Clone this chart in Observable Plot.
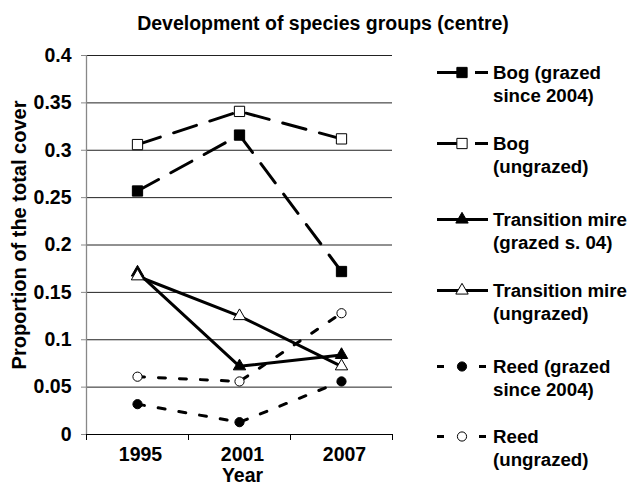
<!DOCTYPE html>
<html>
<head>
<meta charset="utf-8">
<script src="https://cdn.jsdelivr.net/npm/d3@7"></script>
<script src="https://cdn.jsdelivr.net/npm/@observablehq/plot@0.6"></script>
<style>
  body { margin: 0; background: #fff; }
  #wrap { position: relative; width: 631px; height: 490px; overflow: hidden; background: #fff;
          font-family: "Liberation Sans", Arial, sans-serif; font-weight: bold; color: #000; }
  #title { position: absolute; left: 13px; width: 620px; top: 12px; text-align: center;
           font-size: 19.5px; line-height: 22px; white-space: nowrap; }
  #chart { position: absolute; left: 0; top: 36px; }
  #legend { position: absolute; left: 437px; top: 0; width: 194px; height: 490px; }
  .item { position: absolute; left: 0; width: 194px; height: 46px; }
  .item svg { position: absolute; left: 0; top: 0; }
  .item .lab { position: absolute; left: 56px; top: 0; font-size: 18.7px; line-height: 23px; white-space: nowrap; }
</style>
</head>
<body>
<div id="wrap">
  <div id="title"></div>
  <div id="chart"></div>
  <div id="legend"></div>
</div>
<script>
// ---- data ----
const chartTitle = "Development of species groups (centre)";
const xLabel = "Year";
const yLabel = "Proportion of the total cover";
const years = ["1995", "2001", "2007"];
const bogGrazed = [0.257, 0.316, 0.172];
const bogUngrazed = [0.306, 0.341, 0.312];
const transitionGrazed = [0.171, 0.072, 0.084];
const transitionUngrazed = [0.167, 0.125, 0.072];
const reedGrazed = [0.032, 0.013, 0.056];
const reedUngrazed = [0.061, 0.056, 0.128];
const seriesNames = [
  "Bog (grazed since 2004)",
  "Bog (ungrazed)",
  "Transition mire (grazed s. 04)",
  "Transition mire (ungrazed)",
  "Reed (grazed since 2004)",
  "Reed (ungrazed)"
];
const legendLines = [
  ["Bog (grazed", "since 2004)"],
  ["Bog", "(ungrazed)"],
  ["Transition mire", "(grazed s. 04)"],
  ["Transition mire", "(ungrazed)"],
  ["Reed (grazed", "since 2004)"],
  ["Reed", "(ungrazed)"]
];
const yTicks = [0, 0.05, 0.1, 0.15, 0.2, 0.25, 0.3, 0.35, 0.4];
const yTickLabels = ["0", "0.05", "0.1", "0.15", "0.2", "0.25", "0.3", "0.35", "0.4"];

// ---- styles ----
const seriesValues = [bogGrazed, bogUngrazed, transitionGrazed, transitionUngrazed, reedGrazed, reedUngrazed];
const styles = [
  {dash: "24,14", symbol: "square", r: 5.8, fill: "#000"},
  {dash: "24,14", symbol: "square", r: 5.8, fill: "#fff"},
  {dash: null, symbol: "triangle", r: 4.6, fill: "#000"},
  {dash: null, symbol: "triangle", r: 4.6, fill: "#fff"},
  {dash: "7,14", symbol: "circle", r: 4.6, fill: "#000"},
  {dash: "7,14", symbol: "circle", r: 4.6, fill: "#fff"}
];

const rows = [];
seriesNames.forEach((name, s) => {
  years.forEach((yr, i) => rows.push({series: name, s, xi: i, year: yr, value: seriesValues[s][i]}));
});

const xDomain = [-0.5, years.length - 0.5];
const edges = d3.range(years.length + 1).map(i => i - 0.5);
const fontFamily = '"Liberation Sans", Arial, sans-serif';

document.getElementById("title").textContent = chartTitle;

const lineMarks = seriesNames.map((name, s) =>
  Plot.line(rows.filter(d => d.s === s), {
    x: "xi", y: "value", stroke: "#000", strokeWidth: 3,
    strokeDasharray: styles[s].dash || undefined
  })
);
const dotMarks = seriesNames.map((name, s) =>
  Plot.dot(rows.filter(d => d.s === s), {
    x: "xi", y: "value", symbol: styles[s].symbol, r: styles[s].r,
    fill: styles[s].fill, stroke: "#000", strokeWidth: 1
  })
);

const chart = Plot.plot({
  width: 400,
  height: 454,
  marginLeft: 86,
  marginRight: 8,
  marginTop: 19,
  marginBottom: 56,
  x: {type: "linear", domain: xDomain, axis: null, label: null},
  y: {domain: [0, 0.4], axis: null, label: null},
  style: {fontFamily, fontWeight: "bold", fontSize: "19.5px", color: "#000", background: "#fff", overflow: "visible"},
  marks: [
    Plot.gridY(yTicks.filter(t => t > 0), {stroke: "#222", strokeOpacity: 1, strokeWidth: 1}),
    Plot.ruleX([xDomain[0]], {stroke: "#888", strokeWidth: 1.3}),
    Plot.ruleY([0], {stroke: "#000", strokeWidth: 1}),
    Plot.axisY({
      ticks: yTicks, tickSize: 5, tickPadding: 10, stroke: "#888", fontSize: 19.5, label: null,
      tickFormat: d => yTickLabels[yTicks.indexOf(d)]
    }),
    Plot.axisX({ticks: edges, tickSize: 6, tickFormat: () => "", stroke: "#000", label: null}),
    Plot.axisX({
      ticks: years.map((_, i) => i), tickSize: 0, tickPadding: 13, fontSize: 19.5, dx: 3, label: null,
      tickFormat: i => years[i]
    }),
    Plot.text([xLabel], {text: d => d, frameAnchor: "bottom", dy: 47, dx: 3, fontSize: 19.5, fill: "#000"}),
    Plot.text([yLabel], {text: d => d, frameAnchor: "left", textAnchor: "middle", rotate: -90, dx: -67, dy: -10, fontSize: 20, fill: "#000"}),
    ...lineMarks,
    ...dotMarks
  ]
});
document.getElementById("chart").appendChild(chart);

// ---- legend ----
const legendBaselines = [79, 150, 226, 296.7, 373, 443];
const symbolTypes = {square: d3.symbolSquare, triangle: d3.symbolTriangle, circle: d3.symbolCircle};
const legend = d3.select("#legend");
seriesNames.forEach((name, s) => {
  const st = styles[s];
  const item = legend.append("div").attr("class", "item")
    .style("top", (legendBaselines[s] - 18) + "px");
  const svg = item.append("svg").attr("width", 56).attr("height", 23);
  svg.append("line")
    .attr("x1", 0).attr("x2", 51).attr("y1", 11.5).attr("y2", 11.5)
    .attr("stroke", "#000").attr("stroke-width", 3)
    .attr("stroke-dasharray", st.dash);
  svg.append("path")
    .attr("transform", "translate(25,11.5)")
    .attr("d", d3.symbol(symbolTypes[st.symbol], Math.PI * st.r * st.r)())
    .attr("fill", st.fill).attr("stroke", "#000").attr("stroke-width", 1);
  item.append("div").attr("class", "lab").html(legendLines[s].join("<br>"));
});
</script>
</body>
</html>
